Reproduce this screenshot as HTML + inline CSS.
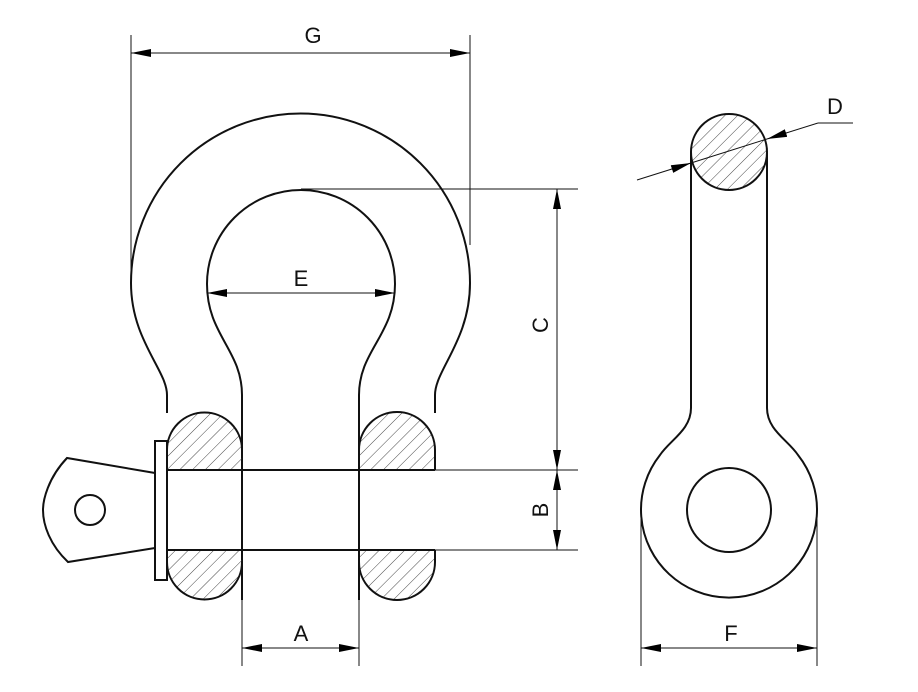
<!DOCTYPE html>
<html><head><style>
html,body{margin:0;padding:0;background:#fff;}
svg{display:block;}
text{font-family:"Liberation Sans",Arial,sans-serif;font-size:22px;fill:#111;}
</style></head><body>
<svg width="918" height="692" viewBox="0 0 918 692" xmlns="http://www.w3.org/2000/svg">
<defs>
<pattern id="h" patternUnits="userSpaceOnUse" width="9" height="9" patternTransform="rotate(45)">
<line x1="0" y1="0" x2="0" y2="9" stroke="#333" stroke-width="0.9"/>
</pattern>
<marker id="a" viewBox="0 0 20 8" refX="20" refY="4" markerWidth="20" markerHeight="8" markerUnits="userSpaceOnUse" orient="auto">
<path d="M0,0 L20,4 L0,8 Z" fill="#000"/>
</marker>
</defs>
<g fill="none" stroke="#111" stroke-width="2">
<path d="M167,413 L167,395 C167,370 131,340 131,283 A169.5,169.5 0 0 1 470,283 C470,340 435,370 435,395 L435,413"/>
<path d="M242,413 L242,395 C242,350 207,335 207,284 A94,94 0 1 1 395,284 C395,335 359,350 359,395 L359,413"/>
<line x1="242" y1="413" x2="242" y2="600"/>
<line x1="359" y1="413" x2="359" y2="600"/>
<path d="M167,470 L167,450 A37.5,37.5 0 0 1 242,450 L242,470 Z" fill="url(#h)" stroke="none"/>
<path d="M167,550 L167,562 A37.5,37.5 0 0 0 242,562 L242,550 Z" fill="url(#h)" stroke="none"/>
<path d="M359,470 L359,450 A38,38 0 0 1 435,450 L435,470 Z" fill="url(#h)" stroke="none"/>
<path d="M359,550 L359,562 A38,38 0 0 0 435,562 L435,550 Z" fill="url(#h)" stroke="none"/>
<path d="M167,470 L167,450 A37.5,37.5 0 0 1 242,450"/>
<path d="M167,550 L167,562 A37.5,37.5 0 0 0 242,562"/>
<path d="M359,470 L359,450 A38,38 0 0 1 435,450 L435,470"/>
<path d="M359,550 L359,562 A38,38 0 0 0 435,562 L435,550"/>
<line x1="167" y1="470" x2="435" y2="470"/>
<line x1="167" y1="550" x2="435" y2="550"/>
<line x1="167" y1="470" x2="167" y2="550"/>
<rect x="155" y="441" width="12" height="139" fill="#fff"/>
<path d="M155,473 L67,458 C48,478 43,500 43,510 C43,525 50,545 68,562 L155,548"/>
<circle cx="90" cy="510" r="15"/>
<circle cx="729" cy="152" r="38" fill="url(#h)"/>
<path d="M691,152 L691,408 C691,430 670,440 660,455 A88,88 0 1 0 798,455 C788,440 767,430 767,408 L767,152"/>
<circle cx="729" cy="510" r="42"/>
</g>
<g stroke="#111" stroke-width="1" fill="none">
<line x1="131" y1="35" x2="131" y2="275"/>
<line x1="470" y1="35" x2="470" y2="245"/>
<line x1="300" y1="53" x2="131" y2="53" marker-end="url(#a)"/>
<line x1="300" y1="53" x2="470" y2="53" marker-end="url(#a)"/>
<line x1="301" y1="293" x2="207" y2="293" marker-end="url(#a)"/>
<line x1="301" y1="293" x2="395" y2="293" marker-end="url(#a)"/>
<line x1="301" y1="189" x2="578" y2="189"/>
<line x1="435" y1="470" x2="578" y2="470"/>
<line x1="435" y1="550" x2="578" y2="550"/>
<line x1="557" y1="330" x2="557" y2="189" marker-end="url(#a)"/>
<line x1="557" y1="330" x2="557" y2="470" marker-end="url(#a)"/>
<line x1="557" y1="510" x2="557" y2="470" marker-end="url(#a)"/>
<line x1="557" y1="510" x2="557" y2="550" marker-end="url(#a)"/>
<line x1="242" y1="600" x2="242" y2="666"/>
<line x1="359" y1="600" x2="359" y2="666"/>
<line x1="300" y1="648" x2="242" y2="648" marker-end="url(#a)"/>
<line x1="300" y1="648" x2="359" y2="648" marker-end="url(#a)"/>
<line x1="641" y1="515" x2="641" y2="666"/>
<line x1="817" y1="515" x2="817" y2="666"/>
<line x1="729" y1="648" x2="641" y2="648" marker-end="url(#a)"/>
<line x1="729" y1="648" x2="817" y2="648" marker-end="url(#a)"/>
<line x1="637" y1="180" x2="691" y2="163" marker-end="url(#a)"/>
<line x1="691" y1="163" x2="767" y2="139"/>
<line x1="818" y1="123" x2="767" y2="139" marker-end="url(#a)"/>
<line x1="818" y1="123" x2="853" y2="123"/>
</g>
<text x="313" y="43" text-anchor="middle">G</text>
<text x="301" y="286" text-anchor="middle">E</text>
<text x="301" y="641" text-anchor="middle">A</text>
<text x="731" y="641" text-anchor="middle">F</text>
<text x="835" y="114" text-anchor="middle">D</text>
<text transform="translate(548,325) rotate(-90)" text-anchor="middle">C</text>
<text transform="translate(548,510) rotate(-90)" text-anchor="middle">B</text>
</svg>
</body></html>
